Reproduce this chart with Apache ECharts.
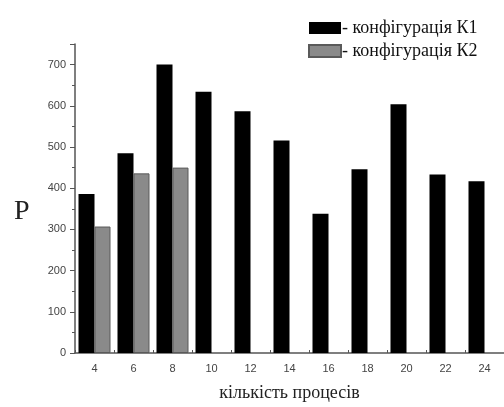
<!DOCTYPE html>
<html>
<head>
<meta charset="utf-8">
<script src="https://cdn.jsdelivr.net/npm/echarts@6/dist/echarts.min.js"></script>
<style>html,body{margin:0;padding:0;background:#fff}#c{width:504px;height:407px}</style>
</head>
<body>
<div id="c"></div>
<script>
var categories = ['4','6','8','10','12','14','16','18','20','22','24'];
var k1Values = [386, 485, 700, 634, 587, 516, 338, 446, 604, 433, 417];
var k2Values = [307, 436, 450, null, null, null, null, null, null, null, null];
var seriesNames = ['- конфігурація К1', '- конфігурація К2'];
var xAxisTitle = 'кількість процесів';
var yAxisTitle = 'P';

var chart = echarts.init(document.getElementById('c'), null, {renderer:'canvas'});
var axisColor = '#555';
chart.setOption({
  animation: false,
  backgroundColor: '#fff',
  grid: {left: 75, right: 0, top: 44, bottom: 41},
  legend: {
    orient: 'vertical', left: 303, top: 14, itemWidth: 32, itemHeight: 12, itemGap: 5,
    icon: 'rect',
    textStyle: {fontFamily: 'Liberation Serif', fontSize: 18, color: '#111', padding: [0,0,0,-4]},
    data: seriesNames
  },
  xAxis: [{
    type: 'category', data: categories,
    axisLine: {lineStyle: {color: axisColor, width: 1.5}},
    axisTick: {alignWithLabel: true, length: 4, lineStyle: {color: axisColor}},
    axisLabel: {fontFamily: 'Liberation Sans', fontSize: 11, color: '#444', margin: 10},
    name: xAxisTitle, nameLocation: 'middle', nameGap: 31,
    nameTextStyle: {fontFamily: 'Liberation Serif', fontSize: 18, color: '#222'}
  }, {
    type: 'category', data: categories, position: 'bottom',
    axisLine: {show: false},
    axisTick: {show: true, inside: true, length: 3, lineStyle: {color: axisColor}},
    axisLabel: {show: false}
  }],
  yAxis: {
    type: 'value', min: 0, max: 750, interval: 100,
    axisLine: {show: true, lineStyle: {color: axisColor, width: 1.5}},
    axisTick: {show: true, length: 5, lineStyle: {color: axisColor}},
    minorTick: {show: true, splitNumber: 2, length: 3, lineStyle: {color: axisColor}},
    splitLine: {show: false},
    axisLabel: {fontFamily: 'Liberation Sans', fontSize: 11, color: '#444', margin: 9, showMaxLabel: false}
  },
  graphic: [{
    type: 'text', left: 14, top: 198,
    style: {text: yAxisTitle, font: '28px "Liberation Serif"', fill: '#222'}
  }],
  series: [{
    name: seriesNames[0], type: 'bar', data: k1Values, barWidth: 16, barGap: '0%',
    itemStyle: {color: '#000'}
  }, {
    name: seriesNames[1], type: 'bar', data: k2Values, barWidth: 16, barGap: '0%',
    itemStyle: {color: '#8a8a8a', borderColor: '#5a5a5a', borderWidth: 1}
  }]
});
</script>
</body>
</html>
